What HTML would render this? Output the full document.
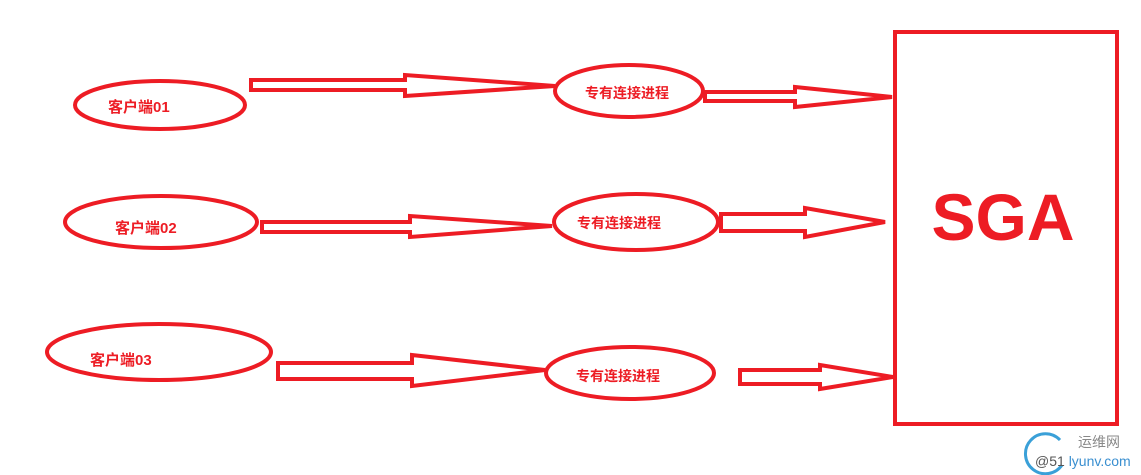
<!DOCTYPE html>
<html><head><meta charset="utf-8"><style>
html,body{margin:0;padding:0;background:#fff;width:1141px;height:475px;overflow:hidden}
text{font-family:"Liberation Sans","Noto Sans CJK SC",sans-serif;fill:#ed1c24;font-weight:bold}
</style></head><body>
<svg width="1141" height="475" viewBox="0 0 1141 475" xmlns="http://www.w3.org/2000/svg">
<g fill="none" stroke="#ed1c24" stroke-width="4" stroke-linejoin="miter">
<ellipse cx="160" cy="105" rx="85" ry="24"/>
<ellipse cx="161" cy="222" rx="96" ry="26"/>
<ellipse cx="159" cy="352" rx="112" ry="28"/>
<ellipse cx="629" cy="91" rx="74" ry="26"/>
<ellipse cx="636" cy="222" rx="82" ry="28"/>
<ellipse cx="630" cy="373" rx="84" ry="26"/>
<rect x="895" y="32" width="222" height="392"/>
<path d="M251 80 H405 V75 L555 86 L405 96 V90 H251 Z"/>
<path d="M705 92 H795 V87 L892 97 L795 107 V101 H705 Z"/>
<path d="M262 222 H410 V216 L552 226 L410 237 V232 H262 Z"/>
<path d="M721 214 H805 V208 L885 222 L805 237 V231 H721 Z"/>
<path d="M278 363 H412 V355 L545 370 L412 386 V379 H278 Z"/>
<path d="M740 370 H820 V365 L893 377 L820 389 V384 H740 Z"/>
</g>
<text x="108" y="112" font-size="15">客户端01</text>
<text x="115" y="233" font-size="15">客户端02</text>
<text x="90" y="365" font-size="15">客户端03</text>
<text x="585" y="98" font-size="14" font-weight="normal">专有连接进程</text>
<text x="577" y="228" font-size="14" font-weight="normal">专有连接进程</text>
<text x="576" y="381" font-size="14" font-weight="normal">专有连接进程</text>
<text x="1003" y="240" font-size="66" text-anchor="middle">SGA</text>
<path d="M1060 440 A20 20 0 1 0 1062 465" fill="none" stroke="#3aa0d8" stroke-width="3"/>
<text x="1078" y="447" font-size="14" style="fill:#888;font-weight:normal">运维网</text>
<text x="1035" y="466" font-size="14" style="fill:#555;font-weight:normal">@51 <tspan style="fill:#3a8fd0">lyunv.com</tspan></text>
</svg>
</body></html>
